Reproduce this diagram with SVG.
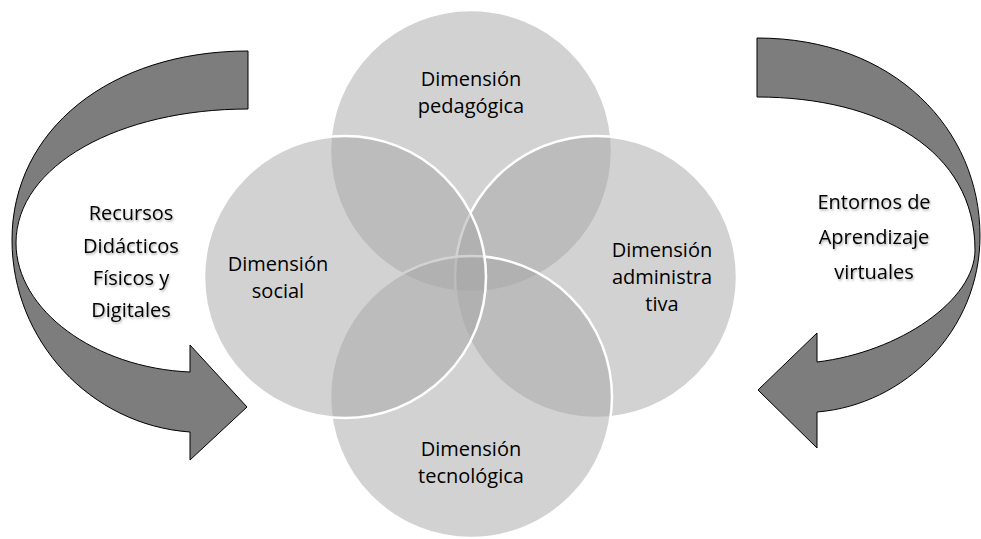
<svg xmlns="http://www.w3.org/2000/svg" width="981" height="539" viewBox="0 0 981 539">
  <style>
    .circ { fill: #a6a6a6; fill-opacity: 0.5; stroke: #ffffff; stroke-width: 2.5; }
    .arrow { fill: #7d7d7d; stroke: #000000; stroke-width: 1; stroke-linejoin: miter; }
    .t { font-family: "Open Sans", "Liberation Sans", sans-serif; font-size: 20px; fill: #000000; text-anchor: middle; }
    .at { filter: url(#shadow); }
  </style>
  <defs>
    <filter id="shadow" x="-20%" y="-20%" width="140%" height="140%">
      <feDropShadow dx="1" dy="1.5" stdDeviation="1.2" flood-color="#000000" flood-opacity="0.35"/>
    </filter>
  </defs>
  <rect width="981" height="539" fill="#ffffff"/>

  <g id="connectors">
    <g id="arrow-left">
      <path class="arrow" d="M 248,51 C 110,51 12,130 12,240 C 12,340 90,425 190,432 L 190,460 L 247,407 L 190,345 L 190,372 C 95,368 16,310 16,243 C 16,165 120,109 248,109 Z"/>
    </g>
    <g id="arrow-right">
      <path class="arrow" d="M 757,38 C 895,38 980,130 980,236 C 980,330 905,405 817,412 L 817,448 L 758,390 L 817,333 L 817,362 C 900,352 975,300 975,250 C 975,150 880,97 757,97 Z"/>
    </g>
  </g>

  <g id="node-pedagogica">
    <circle class="circ" cx="471" cy="151" r="141"/>
  </g>
  <g id="node-administrativa">
    <circle class="circ" cx="596" cy="277" r="141"/>
  </g>
  <g id="node-tecnologica">
    <circle class="circ" cx="471" cy="397" r="141"/>
  </g>
  <g id="node-social">
    <circle class="circ" cx="345" cy="277" r="141"/>
  </g>

  <g id="labels">
    <text class="t" x="471" y="86">Dimensión</text>
    <text class="t" x="471" y="113">pedagógica</text>
    <text class="t" x="278" y="271">Dimensión</text>
    <text class="t" x="278" y="298">social</text>
    <text class="t" x="662" y="257">Dimensión</text>
    <text class="t" x="662" y="284">administra</text>
    <text class="t" x="662" y="311">tiva</text>
    <text class="t" x="471" y="456">Dimensión</text>
    <text class="t" x="471" y="483">tecnológica</text>
  </g>

  <g id="arrow-labels" class="at">
    <text class="t" x="131" y="220" font-size="21">Recursos</text>
    <text class="t" x="131" y="253" font-size="21">Didácticos</text>
    <text class="t" x="131" y="285" font-size="21">Físicos y</text>
    <text class="t" x="131" y="317" font-size="21">Digitales</text>
    <text class="t" x="874" y="209" font-size="21">Entornos de</text>
    <text class="t" x="874" y="244" font-size="21">Aprendizaje</text>
    <text class="t" x="874" y="279" font-size="21">virtuales</text>
  </g>
</svg>
